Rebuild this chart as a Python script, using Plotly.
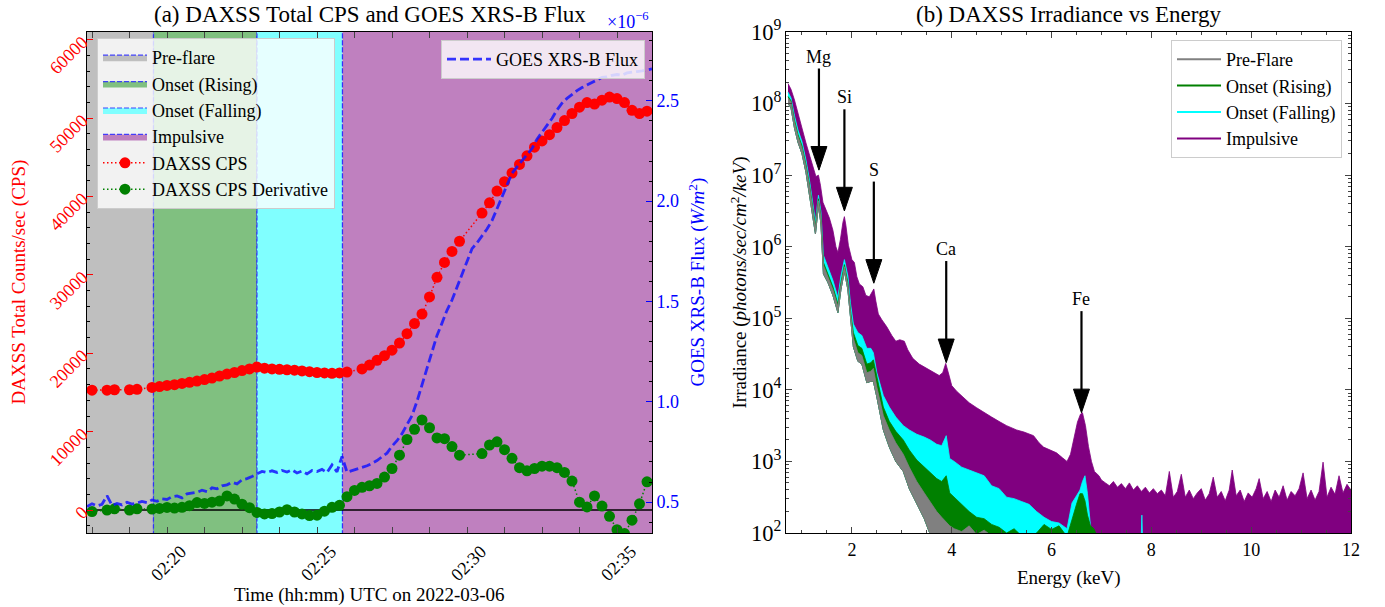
import numpy as np
import pandas as pd
import plotly.graph_objects as go

# ================= Panel (a) data =================
phase_names = ["Pre-flare", "Onset (Rising)", "Onset (Falling)", "Impulsive"]
phase_bounds = ["2022-03-06 02:17:00", "2022-03-06 02:19:33", "2022-03-06 02:23:00",
                "2022-03-06 02:25:51", "2022-03-06 02:36:30"]
phase_colors = ["#bfbfbf", "#80c080", "#80ffff", "#bf80bf"]

cps_start, cps_step = "2022-03-06 02:17:30", "15s"
cps = [15300, None, 15300, 15350, None, 15350, 15400, None,
       15650, 15750, 15900, 16000, 16150, 16300, 16450, 16650, 16850, 17100,
       17350, 17550, 17800, 18000, 18250, 18100, 18000, 17950, 17900, 17850,
       17750, 17650, 17550, 17500, 17450, 17500, 17600, None, 18000, 18500,
       19100, 19700, 20400, 21300, 22500, 23800, 25000, 27200, 29700, 31600,
       33000, 34300, None, None, 37900, 39200, 40700, 41900, 43000, 44100,
       45200, 46300, 47100, 47900, 48800, 49700, 50600, 51400, 52000, 51800,
       52300, 52700, 52500, 52000, 51000, 50600, 50900]
cps_deriv = [-200, None, 0, 150, None, 0, 150, None,
             130, 200, 330, 250, 350, 550, 950, 850, 1000, 1150,
             1800, 1400, 750, 300, -300, -500, -450, -250, 50, -250,
             -500, -700, -650, -150, 350, 600, 1700, 2500, 2900, 3100,
             3400, 4200, 5300, 7000, 9000, 10300, 11500, 10500, 9200, 9100,
             8100, 7000, None, None, 7200, 8300, 8700, 7700, 6600, 5400,
             5000, 5300, 5600, 5600, 5400, 4800, 3700, 1000, 400, 1800,
             500, -800, -2500, -3000, -1300, 800, 3600]

goes_start, goes_step = "2022-03-06 02:17:20", "10s"
goes_flux_e6 = [  # GOES XRS-B flux in units of 1e-6 W/m^2
    0.478, 0.492, 0.481, 0.489,
    0.532, 0.484, 0.493, 0.486, 0.499, 0.490,
    0.496, 0.503, 0.497, 0.511, 0.504, 0.516,
    0.513, 0.527, 0.531, 0.521, 0.541, 0.546,
    0.549, 0.559, 0.552, 0.571, 0.566, 0.581,
    0.586, 0.599, 0.591, 0.611, 0.617, 0.628,
    0.641, 0.653, 0.647, 0.656, 0.648, 0.658,
    0.650, 0.661, 0.645, 0.655, 0.641, 0.657,
    0.652, 0.663, 0.647, 0.685, 0.651, 0.728,
    0.649, 0.657, 0.663, 0.671, 0.681, 0.693,
    0.707, 0.726, 0.744, 0.779, 0.806, 0.841,
    0.886, 0.931, 1.002, 1.084, 1.161, 1.248,
    1.331, 1.392, 1.456, 1.507, 1.571, 1.641,
    1.702, 1.763, 1.792, 1.826, 1.861, 1.903,
    1.962, 2.021, 2.076, 2.139, 2.171, 2.203,
    2.236, 2.262, 2.309, 2.343, 2.374, 2.412,
    2.454, 2.488, 2.512, 2.533, 2.551, 2.566,
    2.579, 2.592, 2.603, 2.617, 2.619, 2.627,
    2.631, 2.627, 2.639, 2.641, 2.646, 2.649,
    2.653, 2.659]

time_range = ["2022-03-06 02:17:20", "2022-03-06 02:36:10"]
cps_range = [-2930, 61000]
goes_range = [0.346, 2.843]

# ================= Panel (b) data =================
spec_energy = [0.72, 0.78, 0.85, 0.92, 1.00, 1.08, 1.15, 1.21, 1.27, 1.33,
               1.38, 1.43, 1.52, 1.62, 1.72, 1.78, 1.85, 1.92, 1.97, 2.03,
               2.12, 2.20, 2.30, 2.38, 2.43, 2.50, 2.63, 2.75, 2.88, 3.03,
               3.15, 3.30, 3.45, 3.57, 3.70, 3.80, 3.89, 3.96, 4.05, 4.20,
               4.35, 4.50, 4.65, 4.80, 4.95, 5.10, 5.25, 5.40, 5.55, 5.70,
               5.85, 6.00, 6.15, 6.31, 6.41, 6.50, 6.57, 6.62, 6.67, 6.72,
               6.78, 6.85, 7.00, 7.78, 7.81, 7.84, 12.00]
# log10 irradiance (photons/sec/cm^2/keV)
preflare_low_log = [8.00, 7.94, 7.66, 7.46, 7.30, 7.04, 6.76, 6.44, 6.18, 6.58,
                    6.32, 5.62, 5.50, 5.32, 5.08, 5.40, 5.66, 5.40, 5.00, 4.60,
                    4.40, 4.36, 4.10, 4.12, 4.12, 3.90, 3.44, 3.20, 3.00, 2.86,
                    2.62, 2.40, 2.20, 1.98, 1.80] + [1.5] * 32
preflare_high_log = [8.08, 8.02, 7.74, 7.54, 7.38, 7.12, 6.84, 6.52, 6.26, 6.64,
                     6.40, 5.74, 5.58, 5.40, 5.16, 5.46, 5.72, 5.46, 5.08, 4.72,
                     4.52, 4.48, 4.24, 4.26, 4.30, 4.04, 3.64, 3.44, 3.26, 3.10,
                     2.92, 2.72, 2.56, 2.44, 2.30, 2.22, 2.16, 2.10, 2.06, 2.02,
                     2.10, 1.98, 2.04, 1.96, 1.80] + [1.5] * 22
rising_high_log = [8.10, 8.04, 7.77, 7.57, 7.41, 7.15, 6.87, 6.55, 6.29, 6.67,
                   6.43, 5.78, 5.62, 5.44, 5.20, 5.50, 5.75, 5.50, 5.12, 4.80,
                   4.62, 4.58, 4.36, 4.38, 4.42, 4.18, 3.76, 3.56, 3.42, 3.30,
                   3.16, 3.02, 2.92, 2.84, 2.76, 2.72, 2.80, 2.56, 2.50, 2.40,
                   2.30, 2.22, 2.20, 2.12, 2.08, 2.00, 2.06, 1.96, 1.95, 2.00,
                   2.12, 2.05, 2.10, 1.95, 2.20, 2.40, 2.55, 2.55, 2.45, 2.25,
                   2.10, 2.06, 1.80, 1.50, 1.50, 1.50, 1.50]
falling_high_log = [8.16, 8.08, 7.83, 7.63, 7.47, 7.21, 6.93, 6.61, 6.35, 6.72,
                    6.49, 5.88, 5.71, 5.53, 5.29, 5.59, 5.82, 5.59, 5.22, 4.92,
                    4.80, 4.76, 4.58, 4.58, 4.52, 4.24, 3.92, 3.76, 3.62, 3.50,
                    3.44, 3.38, 3.34, 3.30, 3.24, 3.22, 3.36, 3.04, 3.00, 2.92,
                    2.88, 2.84, 2.80, 2.66, 2.62, 2.50, 2.48, 2.44, 2.40, 2.30,
                    2.22, 2.16, 2.14, 2.06, 2.42, 2.52, 2.60, 2.72, 2.80, 2.55,
                    2.10, 1.90, 1.50, 1.50, 2.25, 1.50, 1.50]
impulsive_energy = [0.72, 0.78, 0.85, 0.92, 1.00, 1.08, 1.16, 1.24, 1.28, 1.33,
                    1.37, 1.42, 1.48, 1.55, 1.62, 1.68, 1.72, 1.77, 1.82, 1.85,
                    1.88, 1.93, 2.00, 2.05, 2.10, 2.15, 2.22, 2.28, 2.35, 2.40,
                    2.44, 2.48, 2.53, 2.60, 2.70, 2.80, 2.88, 2.96, 3.05, 3.12,
                    3.22, 3.35, 3.50, 3.65, 3.75, 3.82, 3.88, 3.94, 4.00, 4.10,
                    4.22, 4.35, 4.50, 4.65, 4.80, 4.97, 5.10, 5.30, 5.45, 5.64,
                    5.75, 5.84, 5.95, 6.10, 6.22, 6.31, 6.38, 6.44, 6.52, 6.58,
                    6.62, 6.68, 6.74, 6.80, 6.86, 6.95,
                    7.00, 7.08, 7.16, 7.24, 7.32, 7.40, 7.48, 7.56, 7.64, 7.72,
                    7.80, 7.88, 7.96, 8.04, 8.12, 8.20, 8.28, 8.36, 8.44, 8.52,
                    8.60, 8.68, 8.76, 8.84, 8.92, 9.00, 9.08, 9.16, 9.24, 9.32,
                    9.40, 9.48, 9.56, 9.62, 9.70, 9.78, 9.86, 9.94, 10.02, 10.10,
                    10.16, 10.24, 10.32, 10.40, 10.48, 10.56, 10.64, 10.72, 10.80, 10.88,
                    10.96, 11.04, 11.12, 11.20, 11.28, 11.36, 11.44, 11.52, 11.60, 11.68,
                    11.76, 11.84, 11.92, 12.00]
impulsive_high_log = [8.28, 8.20, 8.05, 7.86, 7.66, 7.45, 7.26, 7.08, 6.98, 7.00,
                      6.86, 6.62, 6.52, 6.40, 6.23, 6.00, 5.92, 6.10, 6.34, 6.42,
                      6.30, 6.02, 5.82, 5.78, 5.58, 5.48, 5.44, 5.32, 5.30, 5.37,
                      5.41, 5.24, 5.06, 4.98, 4.88, 4.76, 4.68, 4.70, 4.68, 4.56,
                      4.44, 4.36, 4.30, 4.24, 4.20, 4.24, 4.37, 4.22, 4.06, 3.98,
                      3.90, 3.82, 3.75, 3.68, 3.62, 3.55, 3.50, 3.44, 3.41, 3.36,
                      3.26, 3.20, 3.17, 3.12, 3.05, 3.00, 3.10, 3.30, 3.55, 3.66,
                      3.68, 3.50, 3.21, 3.00, 2.86, 2.80,
                      2.74, 2.70, 2.66, 2.72, 2.64, 2.69, 2.62, 2.70, 2.60, 2.66,
                      2.58, 2.64, 2.56, 2.62, 2.55, 2.60, 2.52, 2.86, 2.50, 2.58,
                      2.82, 2.50, 2.60, 2.48, 2.56, 2.62, 2.46, 2.55, 2.78, 2.50,
                      2.58, 2.45, 2.60, 2.88, 2.52, 2.60, 2.44, 2.56, 2.50, 2.62,
                      2.76, 2.48, 2.58, 2.44, 2.60, 2.50, 2.66, 2.46, 2.58, 2.52,
                      2.62, 2.84, 2.48, 2.60, 2.46, 2.58, 2.99, 2.50, 2.64, 2.54,
                      2.80, 2.56, 2.68, 2.60]

line_names = ["Mg", "Si", "S", "Ca", "Fe"]
line_energy = [1.34, 1.85, 2.44, 3.89, 6.60]
line_tip_log = [7.07, 6.50, 5.49, 4.38, 3.68]

# ================= styling constants =================
FONT = "Liberation Serif"
W, H = 1385, 607
dom_xa = [87 / W, 652 / W]
dom_xb = [786 / W, 1351 / W]
dom_y = [1 - 533 / H, 1 - 32 / H]

fig = go.Figure()

# ---- Panel (a): phase bands ----
pad = 3000
for name, t0, t1, col in zip(phase_names, phase_bounds[:-1], phase_bounds[1:], phase_colors):
    fig.add_trace(go.Scatter(
        x=[t0, t0, t1, t1, t0],
        y=[cps_range[0] - pad, cps_range[1] + pad, cps_range[1] + pad, cps_range[0] - pad, cps_range[0] - pad],
        fill="toself", fillcolor=col, mode="lines",
        line=dict(color="rgba(40,40,255,0.85)", width=1.2, dash="5px,2px"),
        name=name, xaxis="x", yaxis="y", hoverinfo="skip"))

# zero line
fig.add_trace(go.Scatter(x=time_range, y=[0, 0], mode="lines",
                         line=dict(color="black", width=1.5), showlegend=False,
                         xaxis="x", yaxis="y", hoverinfo="skip"))

cps_t = pd.date_range(cps_start, periods=len(cps), freq=cps_step)
fig.add_trace(go.Scatter(x=cps_t, y=cps, mode="lines+markers", connectgaps=True,
                         line=dict(color="red", width=1.5, dash="1.5px,2.5px"),
                         marker=dict(color="red", size=11),
                         name="DAXSS CPS", xaxis="x", yaxis="y"))
fig.add_trace(go.Scatter(x=cps_t, y=cps_deriv, mode="lines+markers", connectgaps=True,
                         line=dict(color="green", width=1.5, dash="1.5px,2.5px"),
                         marker=dict(color="green", size=11),
                         name="DAXSS CPS Derivative", xaxis="x", yaxis="y"))

goes_t = pd.date_range(goes_start, periods=len(goes_flux_e6), freq=goes_step)
fig.add_trace(go.Scatter(x=goes_t, y=goes_flux_e6, mode="lines",
                         line=dict(color="rgba(20,20,255,0.85)", width=2.8, dash="9px,4px"),
                         name="GOES XRS-B Flux", legend="legend2", xaxis="x", yaxis="y2"))

# ---- Panel (b): spectra bands ----
E_base = spec_energy[::-1]
base_lin = [10 ** v for v in preflare_low_log][::-1]
spectra = [
    ("Impulsive", "#800080", impulsive_energy, impulsive_high_log),
    ("Onset (Falling)", "#00ffff", spec_energy, falling_high_log),
    ("Onset (Rising)", "#008000", spec_energy, rising_high_log),
    ("Pre-Flare", "#808080", spec_energy, preflare_high_log),
]
for name, col, e_top, top_log in spectra:
    fig.add_trace(go.Scatter(
        x=list(e_top) + E_base, y=[10 ** v for v in top_log] + base_lin,
        fill="toself", fillcolor=col, mode="lines", line=dict(color=col, width=0.8),
        showlegend=False, xaxis="x2", yaxis="y3", hoverinfo="skip"))

for name, col in [("Pre-Flare", "#808080"), ("Onset (Rising)", "#008000"),
                  ("Onset (Falling)", "#00ffff"), ("Impulsive", "#800080")]:
    fig.add_trace(go.Scatter(x=[None], y=[None], mode="lines", line=dict(color=col, width=2),
                             name=name, legend="legend3", xaxis="x2", yaxis="y3"))

# arrows
head_len, arrow_len, head_half = 0.33, 1.42, 0.16
annotations = []
for nm, e, tip in zip(line_names, line_energy, line_tip_log):
    fig.add_trace(go.Scatter(x=[e, e], y=[10 ** (tip + head_len * 0.9), 10 ** (tip + arrow_len)],
                             mode="lines", line=dict(color="black", width=2.2),
                             showlegend=False, xaxis="x2", yaxis="y3", hoverinfo="skip"))
    fig.add_trace(go.Scatter(x=[e - head_half, e + head_half, e, e - head_half],
                             y=[10 ** (tip + head_len)] * 2 + [10 ** tip, 10 ** (tip + head_len)],
                             fill="toself", fillcolor="black", mode="lines",
                             line=dict(color="black", width=1),
                             showlegend=False, xaxis="x2", yaxis="y3", hoverinfo="skip"))
    annotations.append(dict(x=e, y=tip + arrow_len, xref="x2", yref="y3", text=nm,
                            showarrow=False, yanchor="bottom", yshift=0,
                            font=dict(family=FONT, size=18, color="black")))

# titles and axis labels
def pa(text, x, y, size=19, color="black", angle=0, xanchor="center", yanchor="middle"):
    return dict(text=text, x=x, y=y, xref="paper", yref="paper", showarrow=False,
                textangle=angle, xanchor=xanchor, yanchor=yanchor,
                font=dict(family=FONT, size=size, color=color))

annotations += [
    pa("(a) DAXSS Total CPS and GOES XRS-B Flux", (dom_xa[0] + dom_xa[1]) / 2, 1 - 14 / H, size=23),
    pa("(b) DAXSS Irradiance vs Energy", (dom_xb[0] + dom_xb[1]) / 2, 1 - 14 / H, size=23),
    pa("×10<sup>−6</sup>", dom_xa[1] - 1 / W, 1 - 21 / H, size=18, color="blue", xanchor="right"),
    pa("DAXSS Total Counts/sec (CPS)", 19 / W, 1 - 282.5 / H, color="red", angle=-90),
    pa("GOES XRS-B Flux (<i>W/m</i><sup>2</sup>)", 697 / W, 1 - 282.5 / H, color="blue", angle=-90),
    pa("Irradiance (<i>photons/sec/cm</i><sup>2</sup><i>/keV</i>)", 739 / W, 1 - 282.5 / H, angle=-90),
    pa("Time (hh:mm) UTC on 2022-03-06", (dom_xa[0] + dom_xa[1]) / 2, 1 - 595 / H),
    pa("Energy (keV)", (dom_xb[0] + dom_xb[1]) / 2, 1 - 578 / H),
]

TICK = 18
tickfont = dict(family=FONT, size=TICK, color="black")
common = dict(showgrid=False, zeroline=False, showline=True, linecolor="black", linewidth=1,
              ticks="inside", ticklen=6, tickwidth=1, automargin=False)

legend_common = dict(bgcolor="rgba(255,255,255,0.8)", bordercolor="#cccccc", borderwidth=1,
                     font=dict(family=FONT, size=18, color="black"), xanchor="left", yanchor="top",
                     traceorder="normal", itemwidth=44)

fig.update_layout(
    width=W, height=H, autosize=False, margin=dict(l=0, r=0, t=0, b=0, pad=0),
    paper_bgcolor="white", plot_bgcolor="white",
    font=dict(family=FONT, size=18, color="black"),
    annotations=annotations,
    xaxis=dict(domain=dom_xa, anchor="y", type="date", range=time_range,
               tick0="2022-03-06 02:20:00", dtick=300000, tickformat="%H:%M",
               tickangle=-45, tickfont=tickfont, mirror="allticks", ticklabelshift=14,
               minor=dict(ticks="inside", ticklen=3, dtick=75000, tick0="2022-03-06 02:20:00",
                          showgrid=False), **common),
    yaxis=dict(domain=dom_y, anchor="x", range=cps_range, tick0=0, dtick=10000, tickformat="d",
               tickangle=-45, tickcolor="red", tickfont=dict(family=FONT, size=TICK, color="red"),
               minor=dict(ticks="inside", ticklen=3, dtick=2000, tickcolor="black", showgrid=False),
               **common),
    yaxis2=dict(overlaying="y", side="right", anchor="x", range=goes_range, tick0=0.5, dtick=0.5,
                tickformat=".1f", tickcolor="blue", tickfont=dict(family=FONT, size=TICK, color="blue"),
                minor=dict(ticks="inside", ticklen=3, dtick=0.1, tickcolor="black", showgrid=False),
                **common),
    xaxis2=dict(domain=dom_xb, anchor="y3", range=[0.68, 12], tick0=0, dtick=2, tickfont=tickfont,
                mirror="allticks",
                minor=dict(ticks="inside", ticklen=3, dtick=0.5, showgrid=False), **common),
    yaxis3=dict(domain=dom_y, anchor="x2", type="log", range=[2, 9], dtick=1,
                exponentformat="power", tickfont=tickfont, mirror="allticks",
                minor=dict(ticks="inside", ticklen=3, dtick="D1", showgrid=False), **common),
    legend=dict(x=97 / W, y=1 - 38 / H, **legend_common),
    legend2=dict(x=645 / W, y=1 - 40 / H, **{**legend_common, "xanchor": "right"}),
    legend3=dict(x=1342 / W, y=1 - 40 / H, **{**legend_common, "xanchor": "right"}),
    showlegend=True,
)

fig.write_html("out.html")
